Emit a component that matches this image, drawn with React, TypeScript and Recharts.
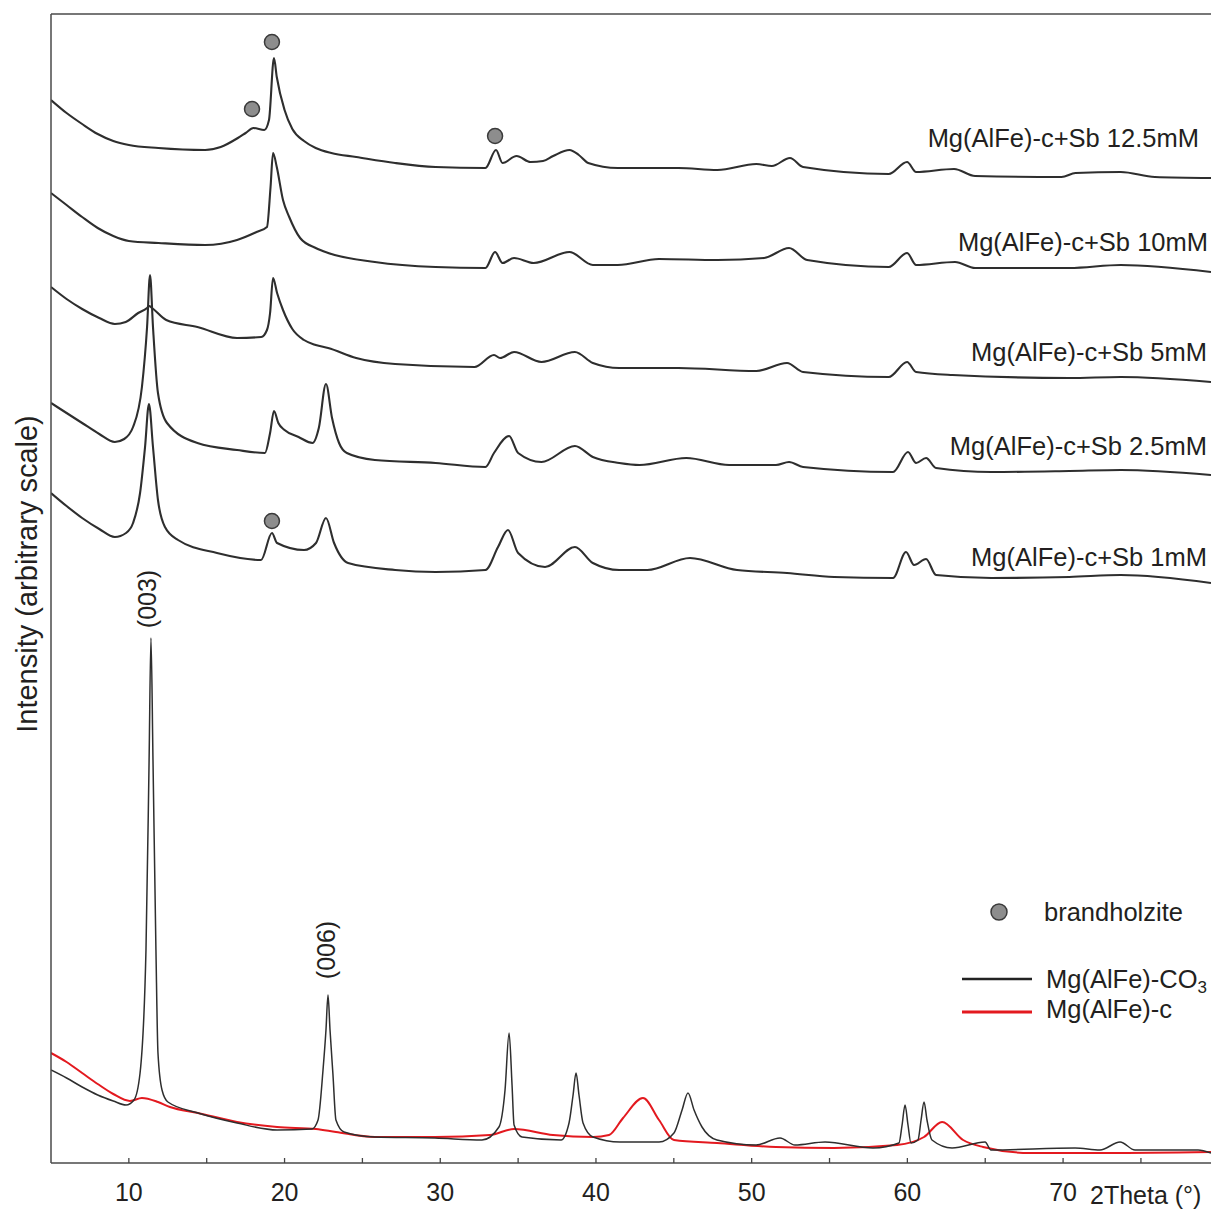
import React from "react";
import { LineChart, Line, XAxis, YAxis, ReferenceLine, ReferenceDot } from "recharts";

type Pair = [number, number];

// 2theta (deg), intensity (arbitrary, stacked offset included)
const xTicks = [10, 15, 20, 25, 30, 35, 40, 45, 50, 55, 60, 65, 70, 75];

const sb125: Pair[] = [
  [5, 1063], [6.0, 1050], [7.0, 1039], [8.0, 1029], [9.0, 1022], [10.0, 1018], [11.9, 1015],
  [14.9, 1013], [15.9, 1016], [17.0, 1025], [17.5, 1030], [18.0, 1035], [18.7, 1033],
  [19.0, 1043], [19.32, 1105], [19.5, 1086], [20.0, 1053], [20.5, 1034], [21.25, 1022],
  [22.0, 1015], [23.0, 1010], [24.6, 1006], [27.1, 1000], [29.7, 996], [32.9, 995],
  [33.58, 1013], [34.0, 1000], [34.9, 1007], [35.8, 1001], [36.6, 1002], [37.25, 1007],
  [38.3, 1013], [38.9, 1008], [39.5, 1000], [41.4, 995], [45.3, 995], [47.8, 993],
  [50.3, 999], [51.3, 997], [52.46, 1005], [53.3, 996], [58.8, 989], [59.98, 1001],
  [60.56, 991], [63.0, 994], [64.35, 987], [69.9, 986], [70.8, 990], [73.7, 991],
  [75.9, 986], [79.5, 985],
];

const sb10: Pair[] = [
  [5, 970], [6.0, 958], [7.0, 946], [8.0, 935], [9.0, 927], [10.0, 922], [11.9, 920],
  [14.9, 918], [16.95, 923], [18.2, 931], [18.87, 936], [19.1, 976], [19.26, 1010],
  [19.5, 996], [19.9, 963], [20.3, 946], [21.0, 925], [22.0, 915], [22.8, 910], [25.8, 901],
  [29.7, 896], [32.9, 895], [33.52, 911], [34.0, 900], [34.74, 905], [36.0, 900],
  [38.3, 911], [39.8, 898], [41.4, 898], [44.05, 904], [47.8, 903], [50.8, 905],
  [52.4, 915], [53.56, 903], [58.8, 896], [59.98, 910], [60.56, 898], [63.06, 901],
  [64.35, 895], [70.4, 895], [73.7, 898], [79.5, 891],
];

const sb5: Pair[] = [
  [5, 876], [6.0, 864], [7.0, 854], [8.1, 845], [9.1, 839], [9.8, 841], [10.6, 850],
  [11.17, 855], [11.3, 857], [11.49, 855], [12.4, 843], [14.4, 836], [16.95, 825],
  [18.5, 826], [18.87, 833], [19.07, 850], [19.26, 885], [19.52, 870], [19.9, 853],
  [20.5, 834], [21.25, 823], [22.0, 818], [22.8, 815], [24.6, 805], [27.1, 799],
  [32.2, 796], [33.45, 808], [33.84, 805], [34.74, 811], [36.5, 801], [38.65, 811],
  [39.8, 800], [41.5, 795], [45.3, 795], [50.3, 792], [52.27, 800], [53.3, 791],
  [58.8, 786], [59.98, 801], [60.56, 791], [62.9, 788], [70.4, 785], [73.7, 786], [79.5, 781],
];

const sb25: Pair[] = [
  [5, 760], [6.0, 750], [7.0, 740], [8.1, 729], [9.1, 721], [9.7, 724], [10.27, 736],
  [10.84, 776], [11.17, 836], [11.36, 888], [11.55, 836], [11.87, 770], [12.45, 740],
  [14.4, 720], [16.95, 713], [18.74, 710], [19.07, 730], [19.32, 752], [19.6, 740],
  [20.0, 733], [20.9, 726], [21.8, 720], [22.2, 735], [22.66, 779], [23.05, 745],
  [23.5, 720], [24.0, 710], [25.8, 703], [29.7, 700], [32.9, 696], [33.45, 710],
  [34.42, 727], [35.0, 710], [36.5, 701], [38.65, 717], [39.8, 706], [41.5, 700],
  [42.8, 698], [45.8, 705], [48.55, 698], [51.56, 698], [52.4, 701], [53.3, 696],
  [59.08, 691], [60.04, 711], [60.56, 700], [61.2, 705], [61.84, 695], [65.4, 691],
  [70.4, 692], [73.7, 693], [79.5, 688],
];

const sb1: Pair[] = [
  [5, 670], [6.0, 657], [7.0, 645], [8.1, 634], [9.1, 626], [9.82, 630], [10.27, 640],
  [10.72, 670], [11.04, 716], [11.29, 759], [11.55, 716], [11.87, 663], [12.32, 636],
  [13.16, 623], [15.66, 610], [18.49, 603], [19.19, 630], [19.52, 620], [21.25, 613],
  [22.02, 620], [22.66, 645], [23.18, 620], [24.08, 600], [27.1, 593], [29.7, 591],
  [32.9, 593], [33.71, 616], [34.35, 633], [35.0, 610], [36.73, 596], [38.65, 616],
  [39.8, 600], [41.5, 593], [43.3, 593], [46.04, 605], [49.06, 593], [52.27, 590],
  [55.3, 586], [59.08, 585], [59.91, 611], [60.43, 598], [61.2, 604], [61.84, 588],
  [65.4, 585], [70.4, 586], [73.7, 588], [79.5, 580],
];

const co3: Pair[] = [
  [5, 93], [6.0, 85], [7.0, 76], [8.0, 68], [9.0, 62], [9.82, 58], [10.33, 63], [10.72, 90],
  [11.1, 213], [11.3, 403], [11.42, 525], [11.55, 403], [11.74, 213], [11.87, 110],
  [12.13, 73], [12.51, 61], [14.44, 50], [16.95, 40], [19.52, 33], [21.76, 34], [22.15, 43],
  [22.47, 93], [22.66, 133], [22.79, 168], [22.92, 133], [23.11, 88], [23.3, 43],
  [23.82, 31], [25.81, 26], [29.66, 25], [32.68, 23], [33.77, 36], [34.16, 73],
  [34.42, 130], [34.61, 78], [34.74, 38], [35.25, 26], [37.76, 23], [38.27, 40],
  [38.53, 68], [38.72, 90], [38.91, 68], [39.17, 40], [39.81, 26], [41.54, 21],
  [44.05, 21], [45.01, 30], [45.53, 53], [45.91, 70], [46.3, 53], [46.81, 36],
  [47.77, 23], [50.28, 18], [51.82, 25], [52.78, 18], [54.71, 21], [57.79, 15],
  [59.46, 20], [59.66, 38], [59.85, 58], [60.04, 38], [60.23, 20], [60.68, 23],
  [60.88, 43], [61.07, 61], [61.26, 43], [61.58, 23], [62.87, 15], [64.99, 21],
  [65.37, 13], [70.77, 15], [72.37, 13], [73.66, 21], [74.62, 13], [78.67, 13], [79.5, 10],
];

const calcined: Pair[] = [
  [5, 110], [6.0, 101], [7.0, 90], [8.0, 79], [9.0, 69], [10.07, 62], [10.84, 65],
  [11.87, 61], [12.64, 56], [14.44, 50], [16.95, 41], [19.52, 36], [22.02, 34], [23.3, 31],
  [25.81, 26], [29.66, 26], [33.19, 28], [34.74, 34], [37.24, 28], [39.81, 26], [40.84, 28],
  [41.74, 45], [43.02, 65], [44.05, 43], [45.01, 23], [47.77, 20], [51.56, 16],
  [55.29, 15], [59.34, 18], [61.07, 26], [62.23, 41], [63.58, 23], [64.86, 16],
  [67.88, 10], [72.89, 10], [79.5, 11],
];

// brandholzite reflections marked in the patterns
const brandholzite: Pair[] = [
  [19.19, 1121], [17.91, 1054], [33.52, 1027], [19.19, 642],
];

const sampleLabels = [
  "Mg(AlFe)-c+Sb 12.5mM",
  "Mg(AlFe)-c+Sb 10mM",
  "Mg(AlFe)-c+Sb 5mM",
  "Mg(AlFe)-c+Sb 2.5mM",
  "Mg(AlFe)-c+Sb 1mM",
];

const font = '"Liberation Sans", Arial, sans-serif';
const ink = "#231f20";
const trace = "#2e2e2e";
const red = "#e3191f";

const toPts = (arr: Pair[]) => arr.map(([t, i]) => ({ t, i }));

function XTick({ x, y, payload }: any) {
  const v = payload.value;
  return (
    <g>
      <line x1={x} x2={x} y1={y} y2={y - 5} stroke="#444" strokeWidth={1.3} />
      {v % 10 === 0 && (
        <text x={x} y={y + 38} textAnchor="middle" fontSize={25} fill={ink} fontFamily={font}>
          {v}
        </text>
      )}
    </g>
  );
}

const labelRight = [1199, 1208, 1207, 1207, 1207];
const labelBase = [147, 251, 361, 455, 566];

export default function App() {
  return (
    <div style={{ position: "absolute", left: 0, top: 0, width: 1212, height: 1211, background: "#fff" }}>
      <LineChart width={1212} height={1211} margin={{ top: 14, right: 1, bottom: 0, left: 0 }}>
        <XAxis
          dataKey="t"
          type="number"
          domain={[5, 79.5]}
          ticks={xTicks}
          allowDataOverflow
          height={48}
          tickSize={0}
          tickMargin={0}
          tickLine={false}
          axisLine={{ stroke: "#4a4a4a", strokeWidth: 1.5 }}
          tick={<XTick />}
        />
        <YAxis
          type="number"
          domain={[0, 1149]}
          allowDataOverflow
          width={51}
          tick={false}
          tickLine={false}
          axisLine={{ stroke: "#4a4a4a", strokeWidth: 1.5 }}
        />
        <ReferenceLine y={1149} stroke="#4a4a4a" strokeWidth={1.5} />
        {[sb125, sb10, sb5, sb25, sb1].map((s, k) => (
          <Line
            key={k}
            data={toPts(s)}
            dataKey="i"
            type="monotone"
            dot={false}
            stroke={trace}
            strokeWidth={2.1}
            isAnimationActive={false}
          />
        ))}
        <Line data={toPts(calcined)} dataKey="i" type="monotone" dot={false} stroke={red} strokeWidth={2} isAnimationActive={false} />
        <Line data={toPts(co3)} dataKey="i" type="monotone" dot={false} stroke={trace} strokeWidth={1.5} isAnimationActive={false} />
        {brandholzite.map(([t, i], k) => (
          <ReferenceDot key={k} x={t} y={i} r={7.5} fill="#8d8d8d" stroke="#3a3a3a" strokeWidth={1.5} />
        ))}
      </LineChart>
      <svg
        width={1212}
        height={1211}
        style={{ position: "absolute", left: 0, top: 0, pointerEvents: "none" }}
        fontFamily={font}
        fill={ink}
      >
        <text transform="translate(37,574) rotate(-90)" textAnchor="middle" fontSize={29}>
          Intensity (arbitrary scale)
        </text>
        <text transform="translate(156,599) rotate(-90)" textAnchor="middle" fontSize={25}>
          (003)
        </text>
        <text transform="translate(335,950) rotate(-90)" textAnchor="middle" fontSize={25}>
          (006)
        </text>
        {sampleLabels.map((s, k) => (
          <text key={s} x={labelRight[k]} y={labelBase[k]} textAnchor="end" fontSize={25.5}>
            {s}
          </text>
        ))}
        <text x={1090} y={1204} fontSize={25}>2Theta (°)</text>
        <circle cx={999} cy={912} r={8} fill="#8d8d8d" stroke="#3a3a3a" strokeWidth={1.5} />
        <text x={1044} y={921} fontSize={25.5}>brandholzite</text>
        <line x1={962} x2={1032} y1={979} y2={979} stroke="#222" strokeWidth={2.5} />
        <text x={1046} y={988} fontSize={25.5}>
          Mg(AlFe)-CO<tspan fontSize={17} dy={5}>3</tspan>
        </text>
        <line x1={962} x2={1032} y1={1012} y2={1012} stroke={red} strokeWidth={3} />
        <text x={1046} y={1018} fontSize={25.5}>Mg(AlFe)-c</text>
      </svg>
    </div>
  );
}
